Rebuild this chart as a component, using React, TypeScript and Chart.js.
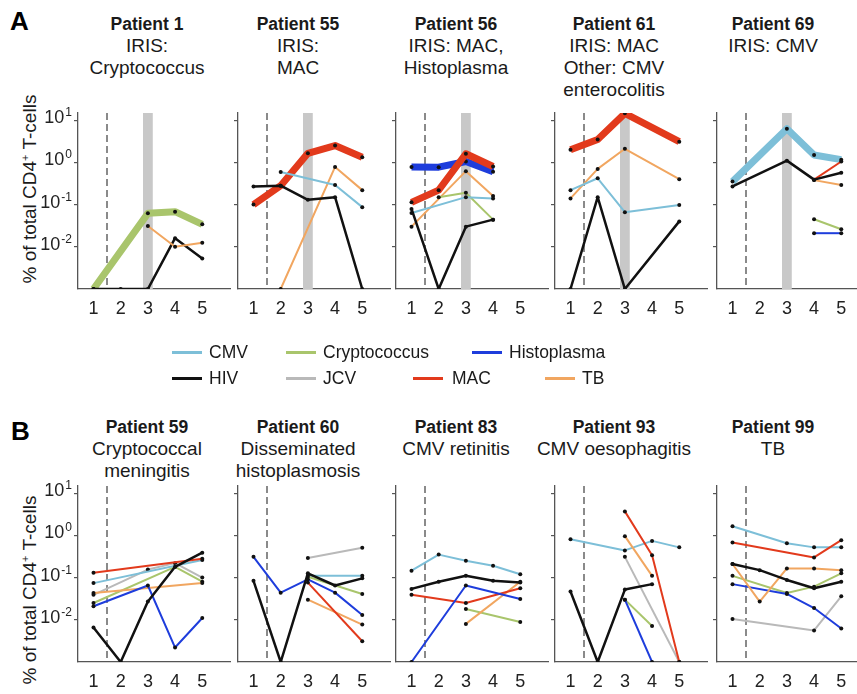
import React, { useEffect, useRef } from "react";
import { Chart, registerables } from "chart.js";
Chart.register(...registerables);

// ---------- data ----------
const timepoints = [1, 2, 3, 4, 5];
const yTickValues = [0.01, 0.1, 1, 10];
const yTickExponents = ["-2", "-1", "0", "1"];
const artStart = 1.5; // dashed line between visit 1 and 2
const irisBand = [2.82, 3.18]; // grey band at IRIS visit

const legendRow1 = ["CMV", "Cryptococcus", "Histoplasma"];
const legendRow2 = ["HIV", "JCV", "MAC", "TB"];

const colors: Record<string, string> = {
  CMV: "#7dbfd8",
  Cryptococcus: "#a9c56c",
  Histoplasma: "#1e3ddc",
  HIV: "#111111",
  JCV: "#b9b9b9",
  MAC: "#e23a1c",
  TB: "#f1a660",
};

// Panel A
const p1Crypto = [0, null, 0.062, 0.068, 0.034];
const p1TB = [null, null, 0.031, 0.01, 0.0124];
const p1HIV = [0, 0, 0, 0.016, 0.0053];

const p55MAC = [0.1, 0.28, 1.64, 2.5, 1.32];
const p55HIV = [0.27, 0.28, 0.13, 0.15, 0];
const p55CMV = [null, 0.59, null, 0.29, 0.087];
const p55TB = [null, 0, null, 0.78, 0.22];

const p56MAC = [0.113, 0.22, 1.6, 0.8, null];
const p56Histo = [0.78, 0.77, 1.05, 0.6, null];
const p56TB = [0.03, null, 0.62, 0.16, null];
const p56Crypto = [null, 0.15, 0.19, 0.044, null];
const p56CMV = [0.063, null, 0.15, 0.14, null];
const p56HIV = [0.079, 0, 0.03, 0.044, null];

const p61MAC = [2.0, 3.5, 14.5, null, 3.1];
const p61TB = [0.14, 0.7, 2.1, null, 0.4];
const p61CMV = [0.22, 0.42, 0.066, null, 0.098];
const p61HIV = [0, 0.15, 0, null, 0.04];

const p69CMV = [0.35, null, 6.3, 1.5, 1.16];
const p69HIV = [0.27, null, 1.1, 0.39, 0.57];
const p69MAC = [null, null, null, 0.39, 1.05];
const p69TB = [null, null, null, 0.38, 0.29];
const p69Crypto = [null, null, null, 0.045, 0.026];
const p69Histo = [null, null, null, 0.021, 0.021];

// Panel B
const p59MAC = [0.13, null, null, null, 0.28];
const p59CMV = [0.074, null, null, null, 0.26];
const p59TB = [0.043, null, null, null, 0.074];
const p59Crypto = [0.025, null, null, 0.18, 0.08];
const p59JCV = [0.039, null, 0.155, 0.22, 0.1];
const p59Histo = [0.021, null, 0.065, 0.0022, 0.011];
const p59HIV = [0.0066, 0, 0.027, 0.18, 0.39];

const p60Histo = [0.31, 0.044, 0.091, 0.044, 0.013];
const p60HIV = [0.084, 0, 0.126, 0.065, 0.096];
const p60JCV = [null, null, 0.29, null, 0.51];
const p60CMV = [null, null, 0.11, null, 0.11];
const p60Crypto = [null, null, 0.105, null, 0.041];
const p60MAC = [null, null, 0.076, null, 0.0031];
const p60TB = [null, null, 0.03, null, 0.0077];

const p83CMV = [0.146, 0.35, 0.25, 0.19, 0.12];
const p83HIV = [0.054, 0.08, 0.11, 0.084, 0.076];
const p83MAC = [0.039, null, 0.025, null, 0.056];
const p83Histo = [0, null, 0.065, null, 0.031];
const p83Crypto = [null, null, 0.018, null, 0.0089];
const p83TB = [null, null, 0.008, null, 0.08];

const p93CMV = [0.81, null, 0.44, 0.74, 0.52];
const p93MAC = [null, null, 3.7, 0.34, 0];
const p93TB = [null, null, 0.96, 0.11, null];
const p93JCV = [null, null, 0.31, null, 0];
const p93HIV = [0.047, 0, 0.052, 0.07, null];
const p93Crypto = [null, null, 0.03, 0.0071, null];
const p93Histo = [null, null, 0.03, 0, null];

const p99CMV = [1.65, null, 0.65, 0.52, 0.52];
const p99MAC = [0.68, null, null, 0.3, 0.77];
const p99HIV = [0.21, 0.15, 0.088, 0.056, 0.08];
const p99TB = [0.21, 0.027, 0.165, 0.165, 0.15];
const p99Crypto = [0.11, null, 0.043, 0.061, 0.126];
const p99Histo = [0.07, null, 0.041, 0.019, 0.0062];
const p99JCV = [0.0105, null, null, 0.0056, 0.036];

type S = { name: string; values: (number | null)[]; thick?: boolean };

const panelA: { title: string[]; series: S[] }[] = [
  {
    title: ["Patient 1", "IRIS:", "Cryptococcus"],
    series: [
      { name: "TB", values: p1TB },
      { name: "HIV", values: p1HIV },
      { name: "Cryptococcus", values: p1Crypto, thick: true },
    ],
  },
  {
    title: ["Patient 55", "IRIS:", "MAC"],
    series: [
      { name: "HIV", values: p55HIV },
      { name: "CMV", values: p55CMV },
      { name: "TB", values: p55TB },
      { name: "MAC", values: p55MAC, thick: true },
    ],
  },
  {
    title: ["Patient 56", "IRIS: MAC,", "Histoplasma"],
    series: [
      { name: "HIV", values: p56HIV },
      { name: "CMV", values: p56CMV },
      { name: "Cryptococcus", values: p56Crypto },
      { name: "TB", values: p56TB },
      { name: "MAC", values: p56MAC, thick: true },
      { name: "Histoplasma", values: p56Histo, thick: true },
    ],
  },
  {
    title: ["Patient 61", "IRIS: MAC", "Other: CMV", "enterocolitis"],
    series: [
      { name: "HIV", values: p61HIV },
      { name: "CMV", values: p61CMV },
      { name: "TB", values: p61TB },
      { name: "MAC", values: p61MAC, thick: true },
    ],
  },
  {
    title: ["Patient 69", "IRIS: CMV"],
    series: [
      { name: "HIV", values: p69HIV },
      { name: "MAC", values: p69MAC },
      { name: "TB", values: p69TB },
      { name: "Cryptococcus", values: p69Crypto },
      { name: "Histoplasma", values: p69Histo },
      { name: "CMV", values: p69CMV, thick: true },
    ],
  },
];

const panelB: { title: string[]; series: S[] }[] = [
  {
    title: ["Patient 59", "Cryptococcal", "meningitis"],
    series: [
      { name: "HIV", values: p59HIV },
      { name: "MAC", values: p59MAC },
      { name: "CMV", values: p59CMV },
      { name: "Histoplasma", values: p59Histo },
      { name: "TB", values: p59TB },
      { name: "Cryptococcus", values: p59Crypto },
      { name: "JCV", values: p59JCV },
    ],
  },
  {
    title: ["Patient 60", "Disseminated", "histoplasmosis"],
    series: [
      { name: "HIV", values: p60HIV },
      { name: "Histoplasma", values: p60Histo },
      { name: "MAC", values: p60MAC },
      { name: "TB", values: p60TB },
      { name: "Cryptococcus", values: p60Crypto },
      { name: "CMV", values: p60CMV },
      { name: "JCV", values: p60JCV },
    ],
  },
  {
    title: ["Patient 83", "CMV retinitis"],
    series: [
      { name: "Histoplasma", values: p83Histo },
      { name: "HIV", values: p83HIV },
      { name: "MAC", values: p83MAC },
      { name: "TB", values: p83TB },
      { name: "Cryptococcus", values: p83Crypto },
      { name: "CMV", values: p83CMV },
    ],
  },
  {
    title: ["Patient 93", "CMV oesophagitis"],
    series: [
      { name: "HIV", values: p93HIV },
      { name: "MAC", values: p93MAC },
      { name: "TB", values: p93TB },
      { name: "Histoplasma", values: p93Histo },
      { name: "Cryptococcus", values: p93Crypto },
      { name: "JCV", values: p93JCV },
      { name: "CMV", values: p93CMV },
    ],
  },
  {
    title: ["Patient 99", "TB"],
    series: [
      { name: "HIV", values: p99HIV },
      { name: "TB", values: p99TB },
      { name: "Histoplasma", values: p99Histo },
      { name: "Cryptococcus", values: p99Crypto },
      { name: "MAC", values: p99MAC },
      { name: "CMV", values: p99CMV },
      { name: "JCV", values: p99JCV },
    ],
  },
];

// ---------- layout ----------
const FONT = '"Liberation Sans", Arial, Helvetica, sans-serif';
const AXIS = "#555555";
const yMin = 0.001;
const yMax = Math.pow(10, 1.17);
const xMin = 0.43;
const xMax = 6.02;
const colX = [78, 238, 396, 555, 717];
const titleCX = [147, 298, 456, 614, 773];
const PADL = 70;
const PADT = 16;
const PADR = 4;
const PLOTW = 152;
const PLOTH = 176;
const XH = 34;
const CW = PADL + PLOTW + PADR;
const CH = PADT + PLOTH + XH;

const markerPlugin = {
  id: "markers",
  beforeDatasetsDraw(chart: any, _args: any, opts: any) {
    const { ctx, chartArea, scales } = chart;
    const x = scales.x;
    ctx.save();
    if (opts.band) {
      const l = x.getPixelForValue(opts.band[0]);
      const r = x.getPixelForValue(opts.band[1]);
      ctx.fillStyle = "#c8c8c8";
      ctx.fillRect(l, chartArea.top, r - l, chartArea.bottom - chartArea.top);
    }
    const d = Math.round(x.getPixelForValue(opts.dashAt));
    ctx.strokeStyle = "#8a8a8a";
    ctx.lineWidth = 2;
    ctx.setLineDash([7, 4]);
    ctx.beginPath();
    ctx.moveTo(d, chartArea.top);
    ctx.lineTo(d, chartArea.bottom);
    ctx.stroke();
    ctx.restore();
  },
  afterDraw(chart: any, _args: any, opts: any) {
    if (!opts.showY) return;
    const { ctx, scales } = chart;
    const y = scales.y;
    const right = y.right - 6;
    ctx.save();
    ctx.fillStyle = "#222";
    ctx.textBaseline = "alphabetic";
    ctx.textAlign = "left";
    yTickValues.forEach((v, i) => {
      const py = y.getPixelForValue(v);
      const exp = yTickExponents[i];
      ctx.font = `12px ${FONT}`;
      const ew = ctx.measureText(exp).width;
      ctx.font = `18px ${FONT}`;
      const bw = ctx.measureText("10").width;
      const x0 = right - ew - bw - 1;
      const base = py + 3;
      ctx.fillText("10", x0, base);
      ctx.font = `12px ${FONT}`;
      ctx.fillText(exp, x0 + bw + 1, base - 7);
    });
    ctx.restore();
  },
};

function Panel(props: { left: number; top: number; series: S[]; showY: boolean; band: boolean }) {
  const ref = useRef<HTMLCanvasElement>(null);
  useEffect(() => {
    const datasets = props.series.map((s) => ({
      label: s.name,
      data: s.values
        .map((v, i) => (v === null ? null : { x: timepoints[i], y: v <= 0 ? yMin : v }))
        .filter((p) => p !== null),
      borderColor: colors[s.name],
      borderWidth: s.thick ? 7 : s.name === "HIV" ? 2.5 : 2,
      borderJoinStyle: "round",
      borderCapStyle: "butt",
      pointRadius: 2,
      pointBackgroundColor: "#111",
      pointBorderWidth: 0,
      tension: 0,
      fill: false,
    }));
    const chart = new Chart(ref.current as HTMLCanvasElement, {
      type: "line",
      data: { datasets: datasets as any },
      options: {
        animation: false,
        responsive: false,
        events: [],
        layout: { padding: { left: 0, top: PADT, right: PADR, bottom: 0 } },
        plugins: {
          legend: { display: false },
          tooltip: { enabled: false },
          markers: { band: props.band ? irisBand : null, dashAt: artStart, showY: props.showY },
        } as any,
        scales: {
          x: {
            type: "linear",
            min: xMin,
            max: xMax,
            bounds: "data",
            afterBuildTicks: (s: any) => {
              s.ticks = timepoints.map((v) => ({ value: v }));
            },
            afterFit: (s: any) => {
              s.height = XH;
            },
            grid: { display: false, drawTicks: false },
            border: { display: true, color: AXIS, width: 1.3 },
            ticks: {
              font: { family: FONT, size: 18 },
              color: "#222",
              padding: 9,
              maxRotation: 0,
              autoSkip: false,
              callback: (v: any) => String(v),
            },
          },
          y: {
            type: "logarithmic",
            min: yMin,
            max: yMax,
            bounds: "data",
            afterBuildTicks: (s: any) => {
              s.ticks = yTickValues.map((v) => ({ value: v }));
            },
            afterFit: (s: any) => {
              s.width = PADL;
            },
            grid: { drawOnChartArea: false, drawTicks: true, tickLength: 4, color: AXIS, lineWidth: 1.2 },
            border: { display: true, color: AXIS, width: 1.3 },
            ticks: { display: false },
          },
        },
      } as any,
      plugins: [markerPlugin as any],
    });
    return () => chart.destroy();
  }, []);
  return (
    <canvas
      ref={ref}
      width={CW}
      height={CH}
      style={{ position: "absolute", left: props.left - PADL, top: props.top - PADT, width: CW, height: CH }}
    />
  );
}

function Title(props: { cx: number; top: number; lines: string[] }) {
  return (
    <div
      style={{
        position: "absolute",
        left: props.cx - 100,
        top: props.top,
        width: 200,
        textAlign: "center",
        fontFamily: FONT,
        color: "#1a1a1a",
        lineHeight: "22px",
      }}
    >
      {props.lines.map((l, i) => (
        <div key={i} style={{ fontWeight: i === 0 ? "bold" : "normal", fontSize: i === 0 ? 17.5 : 19 }}>
          {l}
        </div>
      ))}
    </div>
  );
}

function YTitle(props: { cx: number; cy: number }) {
  return (
    <div
      style={{
        position: "absolute",
        left: props.cx,
        top: props.cy,
        transform: "translate(-50%, -50%) rotate(-90deg)",
        whiteSpace: "nowrap",
        fontFamily: FONT,
        fontSize: 19,
        color: "#1a1a1a",
      }}
    >
      % of total CD4<sup style={{ fontSize: 11 }}>+</sup> T-cells
    </div>
  );
}

function LegendItem(props: { name: string; lineX: number; textX: number; y: number }) {
  return (
    <>
      <div
        style={{
          position: "absolute",
          left: props.lineX,
          top: props.y - 1.5,
          width: 30,
          height: 3,
          background: colors[props.name],
        }}
      />
      <div
        style={{
          position: "absolute",
          left: props.textX,
          top: props.y - 11,
          lineHeight: "22px",
          fontFamily: FONT,
          fontSize: 17.5,
          color: "#1a1a1a",
          whiteSpace: "nowrap",
        }}
      >
        {props.name}
      </div>
    </>
  );
}

const legendPosRow1 = [
  [172, 209],
  [286, 323],
  [472, 509],
];
const legendPosRow2 = [
  [172, 209],
  [286, 323],
  [413, 452],
  [545, 582],
];

export default function App() {
  const rowATop = 112.5;
  const rowBTop = 486;
  return (
    <div style={{ position: "absolute", left: 0, top: 0, width: 857, height: 694, overflow: "hidden", background: "#fff" }}>
      <div style={{ position: "absolute", left: 10, top: 6, fontFamily: FONT, fontWeight: "bold", fontSize: 26 }}>A</div>
      <div style={{ position: "absolute", left: 11, top: 416, fontFamily: FONT, fontWeight: "bold", fontSize: 26 }}>B</div>
      {panelA.map((p, i) => (
        <Title key={"ta" + i} cx={titleCX[i]} top={13} lines={p.title} />
      ))}
      {panelB.map((p, i) => (
        <Title key={"tb" + i} cx={titleCX[i]} top={416} lines={p.title} />
      ))}
      <YTitle cx={30} cy={189} />
      <YTitle cx={30} cy={590} />
      {panelA.map((p, i) => (
        <Panel key={"a" + i} left={colX[i]} top={rowATop} series={p.series} showY={i === 0} band={true} />
      ))}
      {panelB.map((p, i) => (
        <Panel key={"b" + i} left={colX[i]} top={rowBTop} series={p.series} showY={i === 0} band={false} />
      ))}
      {legendRow1.map((n, i) => (
        <LegendItem key={n} name={n} lineX={legendPosRow1[i][0]} textX={legendPosRow1[i][1]} y={352} />
      ))}
      {legendRow2.map((n, i) => (
        <LegendItem key={n} name={n} lineX={legendPosRow2[i][0]} textX={legendPosRow2[i][1]} y={378} />
      ))}
    </div>
  );
}
